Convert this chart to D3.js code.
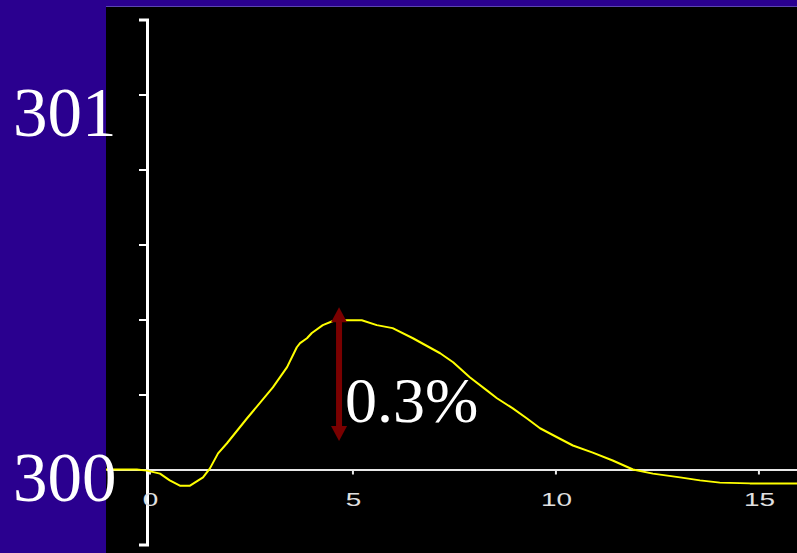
<!DOCTYPE html>
<html>
<head>
<meta charset="utf-8">
<script src="https://cdn.jsdelivr.net/npm/d3@7"></script>
<style>
  html, body { margin: 0; padding: 0; background: #2a008f; }
  svg { display: block; }
</style>
</head>
<body>
<svg id="chart" width="797" height="553"></svg>
<script>
// ---- data ----
const timeValues = [-1.07, -0.31, -0.06, 0.26, 0.50, 0.75, 1.00, 1.32, 1.49, 1.69, 1.91, 2.40, 3.04, 3.39, 3.63, 3.71, 3.88, 4.00, 4.27, 4.52, 4.86, 5.23, 5.60, 5.99, 6.49, 7.16, 7.48, 7.89, 8.31, 8.56, 8.95, 9.30, 9.62, 10.04, 10.43, 10.92, 11.41, 11.91, 12.40, 13.07, 13.56, 14.05, 14.79, 15.95];
const signalValues = [300.000, 300.000, 299.997, 299.989, 299.971, 299.957, 299.957, 299.979, 300.003, 300.043, 300.070, 300.136, 300.219, 300.273, 300.326, 300.337, 300.350, 300.364, 300.385, 300.396, 300.398, 300.398, 300.385, 300.377, 300.350, 300.310, 300.286, 300.246, 300.211, 300.190, 300.163, 300.136, 300.110, 300.086, 300.064, 300.045, 300.024, 300.000, 299.989, 299.979, 299.971, 299.965, 299.963, 299.963];
const xTickValues = [0, 5, 10, 15];
const yTickValues = [299.8, 300.0, 300.2, 300.4, 300.6, 300.8, 301.0, 301.2];
const yLabelValues = [301, 300];
const yLabelTexts = ["301", "300"];
const annotationText = "0.3%";
const arrowTime = 4.67, arrowTop = 300.433, arrowBottom = 300.076;

// ---- layout ----
const W = 797, H = 553;
const svg = d3.select("#chart");

svg.append("rect").attr("x", 0).attr("y", 0).attr("width", W).attr("height", H).attr("fill", "#2a008f");
svg.append("rect").attr("x", 106).attr("y", 7).attr("width", W - 106).attr("height", H - 7).attr("fill", "#000");
svg.append("line").attr("x1", 106).attr("x2", W).attr("y1", 6.5).attr("y2", 6.5)
  .attr("stroke", "#5b45b0").attr("stroke-width", 1);

const x = d3.scaleLinear().domain([-1.07, 15.95]).range([106, 797]);
const y = d3.scaleLinear().domain([299.8, 301.2]).range([544.5, 19.5]);

svg.append("defs").append("clipPath").attr("id", "clip")
  .append("rect").attr("x", 106).attr("y", 7).attr("width", W - 106).attr("height", H - 7);

// y axis
const yAxis = d3.axisLeft(y).tickValues(yTickValues).tickSize(8).tickSizeOuter(8).tickFormat(() => "");
const gy = svg.append("g").attr("transform", "translate(147,0)").call(yAxis);
gy.select(".domain").attr("stroke", "#fff").attr("stroke-width", 3).attr("fill", "none");
gy.selectAll(".tick line").attr("stroke", "#fff").attr("stroke-width", 2);

// x axis
const xAxis = d3.axisBottom(x).tickValues(xTickValues).tickSize(5).tickSizeOuter(0).tickFormat(() => "");
const gx = svg.append("g").attr("transform", `translate(0,${y(300)})`).call(xAxis);
gx.select(".domain").attr("stroke", "#e8e8e8").attr("stroke-width", 2);
gx.selectAll(".tick line").attr("stroke", "#e8e8e8").attr("stroke-width", 2);

// x tick labels (wide sans)
svg.append("g").selectAll("text").data(xTickValues).join("text")
  .attr("transform", d => `translate(${x(d) + 1},506) scale(1.55,1)`)
  .attr("text-anchor", "middle")
  .attr("font-family", "Liberation Sans, Arial, sans-serif")
  .attr("font-size", 18)
  .attr("fill", "#e0e0e0")
  .text(d => d);

// signal line
const line = d3.line().x((d, i) => x(timeValues[i])).y(d => y(d)).curve(d3.curveLinear);
svg.append("path")
  .datum(signalValues)
  .attr("clip-path", "url(#clip)")
  .attr("d", line)
  .attr("fill", "none")
  .attr("stroke", "#ffff00")
  .attr("stroke-width", 2)
  .attr("stroke-linejoin", "round");

// big y labels
svg.append("g").selectAll("text").data(yLabelValues).join("text")
  .attr("x", 13)
  .attr("y", (d, i) => y(d) + (i === 0 ? 41 : 31.5))
  .attr("font-family", "Liberation Serif, Times New Roman, serif")
  .attr("font-size", 69)
  .attr("fill", "#fff")
  .text((d, i) => yLabelTexts[i]);

// arrow
const ax = x(arrowTime), yt = y(arrowTop), yb = y(arrowBottom);
const arrowColor = "#7a0000";
svg.append("line").attr("x1", ax).attr("x2", ax).attr("y1", yt + 10).attr("y2", yb - 10)
  .attr("stroke", arrowColor).attr("stroke-width", 6);
svg.append("path").attr("d", `M${ax},${yt} L${ax - 8},${yt + 15} L${ax + 8},${yt + 15} Z`).attr("fill", arrowColor);
svg.append("path").attr("d", `M${ax},${yb} L${ax - 8},${yb - 15} L${ax + 8},${yb - 15} Z`).attr("fill", arrowColor);

// annotation
svg.append("text")
  .attr("x", 345).attr("y", 422)
  .attr("font-family", "Liberation Serif, Times New Roman, serif")
  .attr("font-size", 64)
  .attr("fill", "#fff")
  .text(annotationText);
</script>
</body>
</html>
